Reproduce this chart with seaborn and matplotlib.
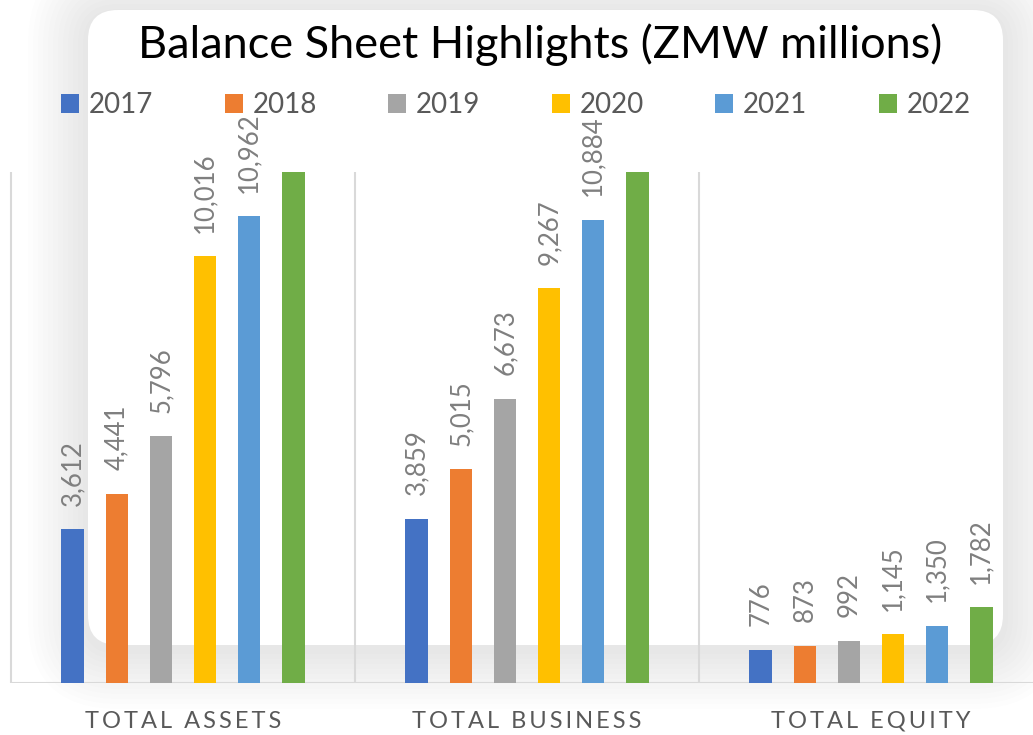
import numpy as np
import pandas as pd
import seaborn as sns
import matplotlib.pyplot as plt
from matplotlib.patches import FancyBboxPatch, Patch

# chart data
categories = ["TOTAL ASSETS", "TOTAL BUSINESS", "TOTAL EQUITY"]
years = ["2017", "2018", "2019", "2020", "2021", "2022"]
total_assets = [3612, 4441, 5796, 10016, 10962, 12900]
total_business = [3859, 5015, 6673, 9267, 10884, 12600]
total_equity = [776, 873, 992, 1145, 1350, 1782]
colors = ["#4472C4", "#ED7D31", "#A5A5A5", "#FFC000", "#5B9BD5", "#70AD47"]
y_max = 12000

rows = []
for cat, vals in zip(categories, [total_assets, total_business, total_equity]):
    for yr, v in zip(years, vals):
        rows.append({"category": cat, "year": yr, "value": v})
df = pd.DataFrame(rows)

sns.set_theme(style="white")
plt.rcParams['font.family'] = ['Lato', 'DejaVu Sans']

fig = plt.figure(figsize=(10.33, 7.35), dpi=100)
fig.patch.set_facecolor("white")

# white card with soft shadow behind the plot
card = dict(x=0.88, y=0.90, w=9.15, h=6.35)
for i in range(12, 0, -1):
    pad = 0.05 * i
    sh = FancyBboxPatch((card["x"] - pad, card["y"] - pad - 0.04),
                        card["w"] + 2 * pad, card["h"] + 2 * pad,
                        boxstyle=f"round,pad=0,rounding_size={0.3 + pad}",
                        transform=fig.dpi_scale_trans, facecolor="black",
                        edgecolor="none", alpha=0.006, zorder=-10)
    fig.patches.append(sh)
box = FancyBboxPatch((card["x"], card["y"]), card["w"], card["h"],
                     boxstyle="round,pad=0,rounding_size=0.3",
                     transform=fig.dpi_scale_trans, facecolor="white",
                     edgecolor="none", zorder=-5)
fig.patches.append(box)

ax = fig.add_axes([11 / 1033, 52 / 735, 1032 / 1033, 511 / 735])
ax.set_facecolor("none")

sns.barplot(data=df, x="category", y="value", hue="year", palette=colors,
            width=0.768, gap=0.48, saturation=1, legend=False, ax=ax,
            linewidth=0, errorbar=None)

ax.set_ylim(0, y_max)
ax.set_xlim(-0.5, 2.5)

for cont in ax.containers:
    labels = [f"{b.get_height():,.0f}" if b.get_height() <= y_max else ""
              for b in cont]
    ax.bar_label(cont, labels=labels, rotation=90, padding=17,
                 color="#7f7f7f", fontsize=18.5)

# category separators and base line
ax.vlines([-0.5, 0.5, 1.5, 2.5], 0, y_max, color="#d9d9d9", lw=1.5,
          zorder=0, clip_on=False)
ax.axhline(0, color="#d9d9d9", lw=1.5, zorder=0)
for s in ax.spines.values():
    s.set_visible(False)

ax.set_xlabel("")
ax.set_ylabel("")
ax.set_yticks([])
ax.set_xticks(range(len(categories)))
ax.set_xticklabels(["\u2009".join(c) for c in categories], fontsize=17,
                   color="#595959")
ax.tick_params(axis="x", length=0, pad=20)

fig.text(540 / 1033, 1 - 45 / 735, "Balance Sheet Highlights (ZMW millions)",
         ha="center", va="center", fontsize=32.5, color="black")

handles = [Patch(facecolor=c, edgecolor="none") for c in colors]
fig.legend(handles, years, loc="center", bbox_to_anchor=(516 / 1033, 1 - 105 / 735),
           ncol=6, frameon=False, fontsize=20, labelcolor="#595959",
           handlelength=0.65, handleheight=0.65, handletextpad=0.35,
           columnspacing=2.57)

fig.savefig("out.png", dpi=100)
